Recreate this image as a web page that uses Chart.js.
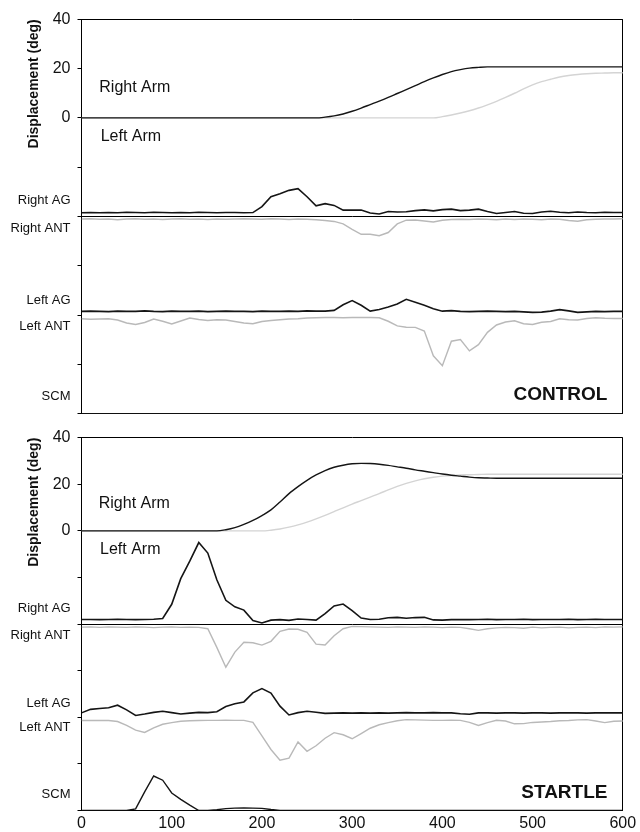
<!DOCTYPE html>
<html>
<head>
<meta charset="utf-8">
<title>Arm displacement and EMG - control vs startle</title>
<script src="https://cdn.jsdelivr.net/npm/chart.js@4.4.1/dist/chart.umd.min.js"></script>
<style>
  html, body { margin: 0; padding: 0; background: #fff; }
  .panel { position: absolute; left: 0; width: 640px; }
  canvas { display: block; }
</style>
</head>
<body>
<div class="panel" style="top:0"><canvas id="control" width="640" height="418"></canvas></div>
<div class="panel" style="top:418px"><canvas id="startle" width="640" height="414"></canvas></div>
<script>
// time (ms), one sample every 10 ms
const times = [0, 10, 20, 30, 40, 50, 60, 70, 80, 90, 100, 110, 120, 130, 140, 150, 160, 170, 180, 190,
  200, 210, 220, 230, 240, 250, 260, 270, 280, 290, 300, 310, 320, 330, 340, 350, 360, 370, 380, 390,
  400, 410, 420, 430, 440, 450, 460, 470, 480, 490, 500, 510, 520, 530, 540, 550, 560, 570, 580, 590, 600];

const xTicks = [0, 100, 200, 300, 400, 500, 600];
const displacementTicks = [-120, -100, -80, -60, -40, -20, 0, 20, 40];
const muscleNames = ["Right AG", "Right ANT", "Left AG", "Left ANT", "SCM"];

// CONTROL trial - arm displacement (deg)
const controlRightArm = [0, 0, 0, 0, 0, 0, 0, 0, 0, 0, 0, 0, 0, 0, 0, 0, 0, 0, 0, 0,
  0, 0, 0, 0, 0, 0, 0, 0.3, 0.8, 1.6, 2.7, 4.0, 5.4, 6.8, 8.3, 9.9, 11.5, 13.1, 14.7, 16.2,
  17.6, 18.8, 19.6, 20.2, 20.5, 20.7, 20.7, 20.7, 20.7, 20.7, 20.7, 20.7, 20.7, 20.7, 20.7, 20.7, 20.7, 20.7, 20.7, 20.7, 20.7];
const controlLeftArm = [0, 0, 0, 0, 0, 0, 0, 0, 0, 0, 0, 0, 0, 0, 0, 0, 0, 0, 0, 0,
  0, 0, 0, 0, 0, 0, 0, 0, 0, 0, 0, 0, 0, 0, 0, 0, 0, 0, 0, 0,
  0.5, 1.2, 2.0, 2.9, 4.0, 5.3, 6.7, 8.3, 10.0, 11.8, 13.4, 14.7, 15.7, 16.6, 17.2, 17.6, 17.9, 18.1, 18.2, 18.3, 18.3];

// CONTROL trial - rectified EMG, size of the deflection from each row's baseline
const controlRightAG = [1.5, 1.6, 1.5, 1.6, 1.5, 1.7, 1.6, 1.5, 1.7, 1.6, 1.5, 1.6, 1.5, 1.7, 1.6, 1.5, 1.6, 1.6, 1.5, 1.6,
  4.0, 8.0, 9.2, 10.6, 11.3, 8.0, 4.3, 5.2, 4.5, 2.6, 2.6, 2.6, 1.4, 1.0, 2.0, 1.8, 1.9, 2.4, 2.7, 2.3,
  2.8, 3.0, 2.4, 2.6, 3.0, 2.0, 1.2, 1.6, 2.0, 1.3, 1.2, 1.8, 2.1, 1.7, 1.5, 1.8, 1.6, 1.5, 1.7, 1.6, 1.6];
const controlRightANT = [1.0, 0.9, 1.1, 1.0, 1.3, 1.0, 0.9, 1.1, 1.0, 1.2, 1.0, 0.9, 1.1, 1.0, 1.2, 1.0, 1.1, 1.0, 0.9, 1.0,
  1.1, 0.9, 1.0, 1.2, 1.0, 1.1, 1.3, 1.6, 2.0, 3.0, 5.2, 7.2, 7.2, 7.8, 6.5, 3.0, 1.5, 1.4, 1.8, 2.2,
  1.5, 1.2, 1.1, 1.2, 1.0, 1.1, 1.3, 1.0, 1.2, 1.0, 1.1, 1.3, 1.0, 1.1, 1.6, 1.9, 1.3, 1.1, 1.0, 1.0, 0.9];
const controlLeftAG = [1.5, 1.6, 1.5, 1.4, 1.6, 1.5, 1.5, 1.7, 1.5, 1.4, 1.6, 1.5, 1.5, 1.6, 1.4, 1.5, 1.6, 1.5, 1.5, 1.4,
  1.6, 1.5, 1.5, 1.6, 1.5, 1.7, 1.6, 1.6, 1.9, 4.2, 5.9, 4.0, 1.6, 2.3, 3.3, 4.5, 6.4, 5.2, 4.0, 2.6,
  1.6, 1.8, 1.5, 1.4, 1.5, 1.6, 1.5, 1.4, 1.5, 1.3, 1.1, 1.2, 1.6, 2.2, 1.7, 1.1, 1.3, 1.5, 1.4, 1.5, 1.5];
const controlLeftANT = [1.5, 1.7, 1.6, 1.5, 2.0, 3.2, 3.8, 3.0, 1.6, 2.5, 3.6, 2.4, 1.2, 1.8, 2.2, 1.9, 2.0, 2.6, 3.2, 3.5,
  2.6, 2.2, 1.9, 1.6, 1.5, 1.2, 1.1, 1.0, 1.0, 1.1, 1.0, 1.0, 1.0, 1.1, 2.5, 4.4, 4.9, 5.0, 6.5, 16.5,
  20.5, 10.6, 9.9, 14.5, 12.0, 7.0, 4.0, 2.8, 2.3, 3.5, 3.8, 2.9, 2.6, 1.5, 1.9, 2.0, 1.4, 1.1, 1.3, 1.4, 1.4];
const controlSCM = [0, 0, 0, 0, 0, 0, 0, 0, 0, 0, 0, 0, 0, 0, 0, 0, 0, 0, 0, 0,
  0, 0, 0, 0, 0, 0, 0, 0, 0, 0, 0, 0, 0, 0, 0, 0, 0, 0, 0, 0,
  0, 0, 0, 0, 0, 0, 0, 0, 0, 0, 0, 0, 0, 0, 0, 0, 0, 0, 0, 0, 0];

// STARTLE trial - arm displacement (deg)
const startleRightArm = [0, 0, 0, 0, 0, 0, 0, 0, 0, 0, 0, 0, 0, 0, 0, 0, 0.5, 1.4, 2.8, 4.5,
  6.6, 9.0, 12.4, 16.0, 19.0, 21.7, 24.0, 25.9, 27.3, 28.2, 28.8, 29.0, 28.9, 28.6, 28.1, 27.5, 26.9, 26.2, 25.6, 25.0,
  24.4, 23.9, 23.5, 23.1, 22.8, 22.7, 22.6, 22.6, 22.6, 22.6, 22.6, 22.6, 22.6, 22.6, 22.6, 22.6, 22.6, 22.6, 22.6, 22.6, 22.6];
const startleLeftArm = [0, 0, 0, 0, 0, 0, 0, 0, 0, 0, 0, 0, 0, 0, 0, 0, 0, 0, 0, 0,
  0, 0.3, 0.8, 1.6, 2.6, 3.8, 5.2, 6.7, 8.3, 9.9, 11.5, 13.0, 14.5, 16.0, 17.6, 19.1, 20.4, 21.5, 22.4, 23.0,
  23.5, 23.8, 24.0, 24.1, 24.2, 24.3, 24.3, 24.3, 24.3, 24.3, 24.3, 24.3, 24.3, 24.3, 24.3, 24.3, 24.3, 24.3, 24.3, 24.3, 24.3];

// STARTLE trial - rectified EMG
const startleRightAG = [2.0, 2.0, 1.9, 2.0, 2.1, 2.0, 1.9, 2.0, 2.1, 2.4, 8.5, 19.5, 27.0, 35.0, 30.5, 19.0, 10.2, 7.4, 6.0, 1.5,
  0.5, 1.7, 1.9, 1.6, 2.2, 2.0, 1.7, 4.5, 7.8, 8.6, 5.8, 2.6, 2.0, 2.1, 2.7, 2.9, 2.5, 2.8, 2.9, 1.8,
  1.7, 1.9, 2.0, 1.9, 2.0, 2.1, 1.9, 2.0, 2.0, 2.1, 1.9, 2.0, 2.0, 2.0, 2.1, 1.9, 2.0, 2.1, 2.0, 2.0, 2.0];
const startleRightANT = [1.3, 1.2, 1.4, 1.2, 1.3, 1.4, 1.2, 1.3, 1.5, 1.3, 1.2, 1.4, 1.3, 1.4, 2.0, 10.0, 18.5, 12.0, 7.8, 8.0,
  9.0, 7.4, 3.1, 2.1, 2.2, 3.5, 8.6, 9.0, 5.0, 2.0, 1.0, 1.1, 1.2, 1.3, 1.4, 1.2, 1.3, 1.4, 1.2, 1.3,
  1.5, 1.3, 1.4, 2.0, 2.7, 2.0, 1.6, 1.4, 1.5, 1.8, 1.3, 1.6, 1.4, 1.3, 1.6, 1.4, 1.3, 1.5, 1.2, 1.3, 1.2];
const startleLeftAG = [1.9, 3.4, 3.8, 4.1, 5.2, 3.2, 0.8, 1.4, 2.1, 2.6, 2.0, 1.4, 1.8, 2.1, 2.0, 2.4, 4.6, 5.8, 6.6, 10.5,
  12.3, 10.4, 4.8, 1.0, 2.0, 2.6, 2.2, 1.7, 1.8, 1.9, 1.8, 1.9, 1.8, 1.9, 1.8, 1.9, 2.0, 1.9, 1.9, 2.0,
  1.9, 1.9, 1.5, 1.3, 1.9, 1.9, 1.8, 1.9, 1.9, 1.8, 1.9, 1.9, 1.8, 1.9, 1.9, 1.9, 1.8, 1.9, 1.9, 1.9, 1.9];
const startleLeftANT = [1.4, 1.4, 1.3, 1.4, 1.8, 3.5, 5.5, 6.5, 4.5, 3.0, 2.3, 1.7, 1.5, 1.4, 1.3, 1.3, 1.2, 1.3, 1.3, 2.2,
  8.0, 13.8, 18.4, 17.5, 10.6, 14.6, 12.2, 9.0, 6.6, 7.5, 9.2, 7.0, 4.7, 3.2, 2.3, 1.5, 1.0, 1.1, 1.2, 1.3,
  1.3, 1.2, 1.3, 2.2, 3.5, 2.3, 1.3, 1.6, 2.8, 2.7, 2.2, 2.0, 1.8, 1.5, 1.4, 1.1, 1.0, 1.6, 2.3, 1.7, 1.6];
const startleSCM = [0, 0, 0, 0, 0, 0, 0.7, 8.0, 14.8, 13.0, 7.5, 4.8, 2.3, 0, 0, 0.3, 0.8, 1.0, 1.1, 1.0,
  0.9, 0.4, 0, 0, 0, 0, 0, 0, 0, 0, 0, 0, 0, 0, 0, 0, 0, 0, 0, 0,
  0, 0, 0, 0, 0, 0, 0, 0, 0, 0, 0, 0, 0, 0, 0, 0, 0, 0, 0, 0, 0];

Chart.defaults.font.family = "'Liberation Sans', Arial, Helvetica, sans-serif";
Chart.defaults.color = "#111";

const BLACK = "#151515";
const GREY = "#b9b9b9";
const PALE = "#d4d4d4";
const NONE = "rgba(0,0,0,0)";

// EMG rows sit on these baselines of the displacement axis
const ROW_RIGHT = -40;
const ROW_LEFT = -80;
const ROW_SCM = -120;
// where the muscle names go on the y axis
const nameAt = [-33.3, -45, -74, -84.5, -113];

const labelFor = {};
nameAt.forEach((v, i) => (labelFor[v] = muscleNames[i]));
const isName = (v) => labelFor[v] !== undefined;
const yTicks = displacementTicks.concat(nameAt).sort((a, b) => a - b);

function series(values, base, dir) {
  return times.map((t, i) => ({ x: t, y: base + dir * values[i] }));
}

function line(data, color, width, smooth) {
  return {
    data,
    borderColor: color,
    borderWidth: width,
    pointRadius: 0,
    fill: false,
    tension: smooth ? 0.4 : 0,
    cubicInterpolationMode: smooth ? "monotone" : "default",
  };
}

function makePanel(canvasId, d, opts) {
  const notes = {
    id: "notes",
    afterDatasetsDraw(chart) {
      const { ctx, scales: { x, y } } = chart;
      ctx.save();
      ctx.fillStyle = "#111";
      ctx.textBaseline = "alphabetic";
      opts.notes.forEach((n) => {
        ctx.font = n.font;
        ctx.textAlign = n.align;
        ctx.fillText(n.text, x.getPixelForValue(n.t), y.getPixelForValue(n.v));
      });
      ctx.restore();
    },
  };

  return new Chart(document.getElementById(canvasId), {
    type: "line",
    data: {
      datasets: [
        line(series(d.rightArm, 0, 1), BLACK, 1.4, true),
        line(series(d.leftArm, 0, 1), PALE, 1.4, true),
        line(series(d.rightAG, ROW_RIGHT, 1), BLACK, 1.6, false),
        line(series(d.rightANT, ROW_RIGHT, -1), GREY, 1.4, false),
        line(series(d.leftAG, ROW_LEFT, 1), BLACK, 1.6, false),
        line(series(d.leftANT, ROW_LEFT, -1), GREY, 1.4, false),
        line(series(d.scm, ROW_SCM, 1), BLACK, 1.4, false),
      ],
    },
    options: {
      responsive: false,
      animation: false,
      layout: { padding: { left: 0, right: 17.2, top: opts.top, bottom: opts.bottom } },
      plugins: { legend: { display: false }, tooltip: { enabled: false } },
      scales: {
        x: {
          type: "linear",
          min: 0,
          max: 600,
          afterBuildTicks: (s) => { s.ticks = xTicks.map((v) => ({ value: v })); },
          afterFit: (s) => { s.height = opts.xHeight; },
          ticks: { display: opts.showX, padding: 3, maxRotation: 0, font: { size: 16 }, color: "#111" },
          grid: {
            drawTicks: false,
            color: (c) => (c.tick && c.tick.value === 600 ? "#000" : NONE),
          },
          border: { color: "#000", width: 1 },
        },
        y: {
          type: "linear",
          min: -120,
          max: 40,
          afterBuildTicks: (s) => { s.ticks = yTicks.map((v) => ({ value: v })); },
          afterFit: (s) => {
            s.width = 81.5;
            s.paddingTop = 0;
            s.paddingBottom = 0;
          },
          ticks: {
            autoSkip: false,
            padding: 7,
            color: "#111",
            font: (c) => (c.tick && isName(c.tick.value) ? { size: 13 } : { size: 16 }),
            callback: (v) => (isName(v) ? labelFor[v] : v >= 0 ? String(v) : ""),
          },
          grid: {
            tickLength: 4,
            lineWidth: 1,
            color: (c) => (c.tick && (c.tick.value === 40 || c.tick.value === ROW_RIGHT) ? "#000" : NONE),
            tickColor: (c) => (c.tick && isName(c.tick.value) ? NONE : "#000"),
          },
          border: { color: "#000", width: 1 },
          title: {
            display: true,
            text: "Displacement (deg)",
            align: "end",
            color: "#111",
            font: { size: 14, weight: "bold" },
            padding: { top: 25.6, bottom: 0 },
          },
        },
      },
    },
    plugins: [notes],
  });
}

const armFont = "16px 'Liberation Sans', Arial, sans-serif";
const tagFont = "bold 19px 'Liberation Sans', Arial, sans-serif";

makePanel("control", {
  rightArm: controlRightArm, leftArm: controlLeftArm,
  rightAG: controlRightAG, rightANT: controlRightANT,
  leftAG: controlLeftAG, leftANT: controlLeftANT, scm: controlSCM,
}, {
  top: 19.3, bottom: 4.3, xHeight: 0, showX: false,
  notes: [
    { text: "Right Arm", t: 19.7, v: 10.6, font: armFont, align: "left" },
    { text: "Left Arm", t: 21.3, v: -9.4, font: armFont, align: "left" },
    { text: "CONTROL", t: 583, v: -114.3, font: tagFont, align: "right" },
  ],
});

makePanel("startle", {
  rightArm: startleRightArm, leftArm: startleLeftArm,
  rightAG: startleRightAG, rightANT: startleRightANT,
  leftAG: startleLeftAG, leftANT: startleLeftANT, scm: startleSCM,
}, {
  top: 19.7, bottom: 0, xHeight: 21.5, showX: true,
  notes: [
    { text: "Right Arm", t: 19.1, v: 9.7, font: armFont, align: "left" },
    { text: "Left Arm", t: 20.5, v: -9.9, font: armFont, align: "left" },
    { text: "STARTLE", t: 583, v: -114.5, font: tagFont, align: "right" },
  ],
});
</script>
</body>
</html>
